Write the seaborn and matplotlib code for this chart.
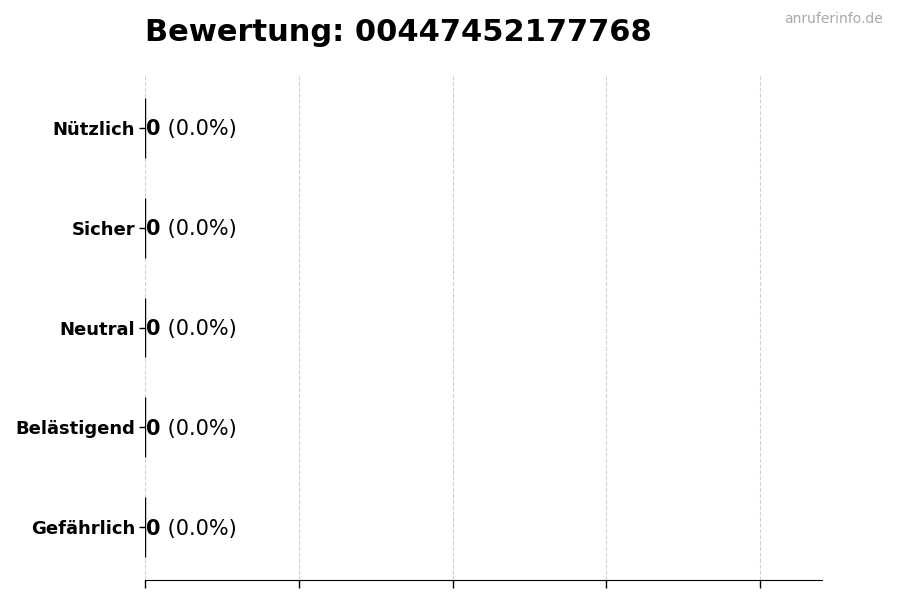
import matplotlib
matplotlib.use("Agg")
import matplotlib.pyplot as plt
import seaborn as sns
import pandas as pd

# Bewertungskategorien und Anzahl
categories = ["Nützlich", "Sicher", "Neutral", "Belästigend", "Gefährlich"]
counts = [0, 0, 0, 0, 0]
phone_number = "00447452177768"

total = sum(counts)
percents = [(c / total * 100) if total else 0.0 for c in counts]

df = pd.DataFrame({"Kategorie": categories, "Anzahl": counts})

sns.set_style("white")
plt.rcParams["text.color"] = "black"
plt.rcParams["axes.labelcolor"] = "black"
plt.rcParams["xtick.color"] = "black"
plt.rcParams["ytick.color"] = "black"

fig = plt.figure(figsize=(9, 6), dpi=100)
ax = fig.add_axes([0.161, 0.0333, 0.752, 0.84])

sns.barplot(data=df, x="Anzahl", y="Kategorie", orient="h", color="#4c72b0",
            edgecolor="black", linewidth=1, width=0.6, ax=ax)

ax.set_xlim(0, 4.4)
ax.set_ylim(4.53, -0.52)
ax.set_xticks([0, 1, 2, 3, 4])
ax.set_xticklabels([])
ax.tick_params(axis="x", length=6, width=1, color="black", bottom=True)
ax.tick_params(axis="y", length=4, width=1, color="black", left=True, pad=3)
ax.set_xlabel("")
ax.set_ylabel("")
for lbl in ax.get_yticklabels():
    lbl.set_fontweight("bold")
    lbl.set_fontsize(13)
    lbl.set_color("black")

ax.grid(axis="x", linestyle="--", color="#d0d0d0", linewidth=0.8)
ax.set_axisbelow(True)
sns.despine(ax=ax, left=True, top=True, right=True)
ax.spines["bottom"].set_color("black")

# Beschriftung der Balken
for i, (c, p) in enumerate(zip(counts, percents)):
    t = ax.annotate(f"{c}", xy=(c, i), xytext=(1, -1), textcoords="offset points",
                    va="center", ha="left", fontsize=15, fontweight="bold",
                    color="black")
    ax.annotate(f" ({p:.1f}%)", xy=(1, 0.5), xycoords=t, va="center", ha="left",
                fontsize=15, color="black")

ax.set_title(f"Bewertung: {phone_number}", loc="left", fontsize=22,
             fontweight="bold", pad=25, color="black")
fig.text(0.981, 0.969, "anruferinfo.de", ha="right", va="center",
         fontsize=10, color="#aaaaaa")

fig.savefig("out.png", dpi=100)
